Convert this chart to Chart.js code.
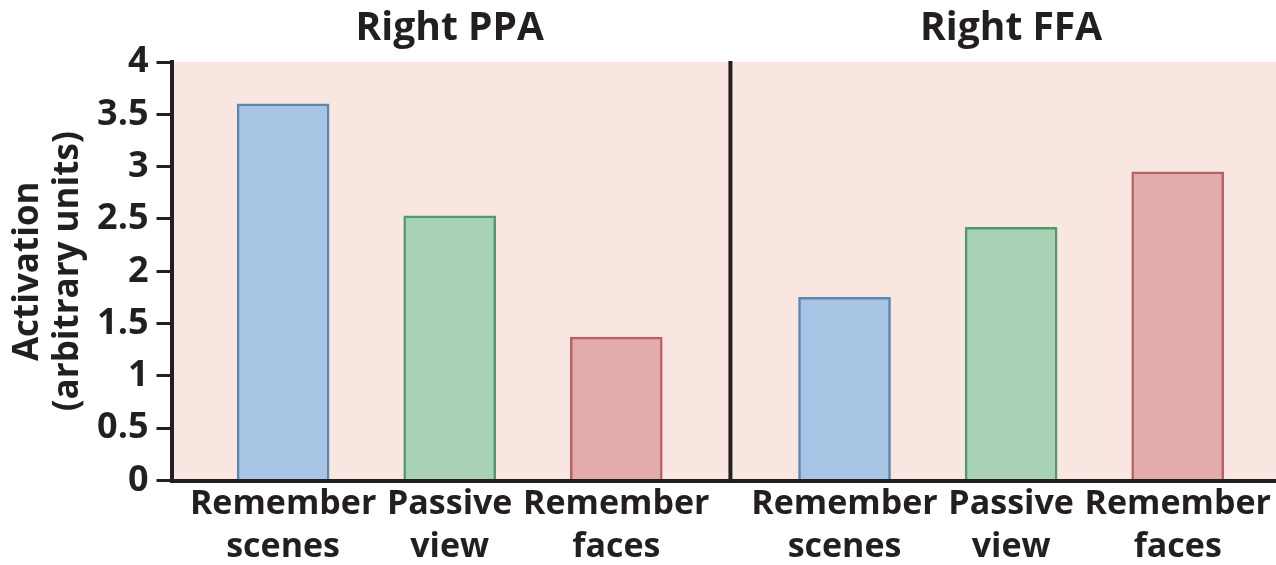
<!DOCTYPE html>
<html lang="en">
<head>
  <meta charset="UTF-8">
  <title>Right PPA / Right FFA activation</title>
  <script src="https://cdn.jsdelivr.net/npm/chart.js"></script>
  <style>
    html, body { margin: 0; padding: 0; background: #ffffff; }
    #chart { display: block; }
  </style>
</head>
<body>
  <canvas id="chart" width="1276" height="565"></canvas>

  <script>
    // Data
    const regions = ['Right PPA', 'Right FFA'];
    const conditions = [['Remember', 'scenes'], ['Passive', 'view'], ['Remember', 'faces']];
    const ppaValues = [3.6, 2.53, 1.37];
    const ffaValues = [1.75, 2.42, 2.95];
    const yMax = 4;
    const yStep = 0.5;

    // Styling
    const INK = '#231f20';
    const PANEL = '#fae6e0';
    const fills = ['#a8c5e5', '#a9d1b5', '#e3aba9'];
    const edges = ['#5b87ad', '#4f9a67', '#b6606a'];
    const FONT = '"Open Sans", "DejaVu Sans", sans-serif';

    // bar slots on a linear x axis: 1 unit between bars, extra gap between regions
    const GROUP_GAP = 0.37;
    const X_MIN = 0.33;
    const X_MAX = 6.96;

    const allValues = [ppaValues, ffaValues];
    const bars = [];
    allValues.forEach((vals, r) => {
      vals.forEach((v, c) => {
        bars.push({ x: r * (conditions.length + GROUP_GAP) + c + 1, y: v });
      });
    });
    const groupCenters = regions.map((_, r) => r * (conditions.length + GROUP_GAP) + (conditions.length + 1) / 2);
    const dividerX = (bars[conditions.length - 1].x + bars[conditions.length].x) / 2;

    // pink panel behind the bars and the black line between regions
    const panelPlugin = {
      id: 'panels',
      beforeDraw(chart) {
        const { ctx, chartArea: a } = chart;
        ctx.save();
        ctx.fillStyle = PANEL;
        ctx.fillRect(a.left, a.top, a.right - a.left, a.bottom - a.top);
        ctx.restore();
      },
      afterDatasetsDraw(chart) {
        const { ctx, chartArea: a } = chart;
        const x = chart.scales.x.getPixelForValue(dividerX);
        ctx.save();
        ctx.strokeStyle = INK;
        ctx.lineWidth = 4;
        ctx.beginPath();
        ctx.moveTo(x, a.top - 1);
        ctx.lineTo(x, a.bottom);
        ctx.stroke();
        ctx.restore();
      }
    };

    new Chart(document.getElementById('chart').getContext('2d'), {
      type: 'bar',
      data: {
        datasets: [{
          data: bars,
          backgroundColor: bars.map((_, i) => fills[i % conditions.length]),
          borderColor: bars.map((_, i) => edges[i % conditions.length]),
          borderWidth: 2.5,
          borderSkipped: 'bottom',
          barThickness: 92
        }]
      },
      options: {
        responsive: false,
        animation: false,
        layout: { padding: 0 },
        plugins: {
          legend: { display: false },
          tooltip: { enabled: false }
        },
        scales: {
          x: {
            type: 'linear',
            position: 'bottom',
            offset: false,
            min: X_MIN,
            max: X_MAX,
            afterBuildTicks: (scale) => { scale.ticks = bars.map(b => ({ value: b.x })); },
            afterFit: (scale) => { scale.height = 84.5; },
            grid: { display: false, drawTicks: false, offset: false },
            border: { display: true, color: INK, width: 4 },
            ticks: {
              autoSkip: false,
              maxRotation: 0,
              padding: 2,
              color: INK,
              font: { family: FONT, size: 34, weight: 'bold', lineHeight: '43px' },
              callback: (value, index) => conditions[index % conditions.length]
            }
          },
          xTop: {
            type: 'linear',
            position: 'top',
            offset: false,
            min: X_MIN,
            max: X_MAX,
            afterBuildTicks: (scale) => { scale.ticks = groupCenters.map(v => ({ value: v })); },
            afterFit: (scale) => { scale.height = 62; },
            grid: { display: false, drawTicks: false, offset: false },
            border: { display: false },
            ticks: {
              autoSkip: false,
              maxRotation: 0,
              padding: 10,
              color: INK,
              font: { family: FONT, size: 39, weight: 'bold', lineHeight: 1.2 },
              callback: (value, index) => regions[index]
            }
          },
          y: {
            min: 0,
            max: yMax,
            afterFit: (scale) => { scale.width = 171.5; },
            grid: {
              display: true,
              drawOnChartArea: false,
              drawTicks: true,
              tickLength: 15,
              lineWidth: 3,
              color: INK
            },
            border: { display: true, color: INK, width: 4 },
            ticks: {
              stepSize: yStep,
              padding: 8,
              color: INK,
              font: { family: FONT, size: 36, weight: 'bold', lineHeight: 1.2 },
              callback: (value) => String(value)
            },
            title: {
              display: true,
              text: ['Activation', '(arbitrary units)'],
              color: INK,
              padding: { top: 8, bottom: 0 },
              font: { family: FONT, size: 35, weight: 'bold', lineHeight: '40px' }
            }
          }
        }
      },
      plugins: [panelPlugin]
    });
  </script>
</body>
</html>
